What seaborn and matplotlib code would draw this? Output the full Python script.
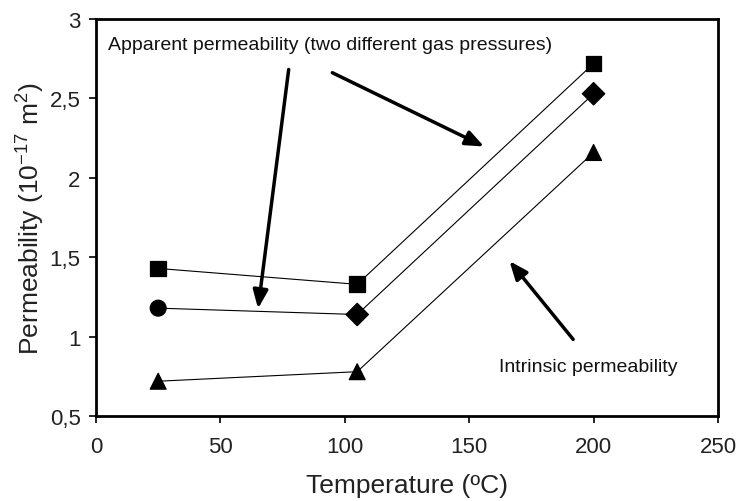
import pandas as pd
import matplotlib.pyplot as plt
import seaborn as sns

# values
temperature = [25, 105, 200]
apparent_high = [1.43, 1.33, 2.72]
apparent_low = [1.18, 1.14, 2.53]
intrinsic = [0.72, 0.78, 2.16]
shapes_high = ['s', 's', 's']
shapes_low = ['o', 'D', 'D']
shapes_intr = ['^', '^', '^']

x_ticks = [0, 50, 100, 150, 200, 250]
y_ticks = [0.5, 1, 1.5, 2, 2.5, 3]
y_tick_labels = ['0,5', '1', '1,5', '2', '2,5', '3']

rows = []
for name, vals, shapes in [('high', apparent_high, shapes_high),
                           ('low', apparent_low, shapes_low),
                           ('intrinsic', intrinsic, shapes_intr)]:
    for t, v, m in zip(temperature, vals, shapes):
        rows.append({'Temperature': t, 'Permeability': v, 'series': name, 'shape': m})
df = pd.DataFrame(rows)

sns.set_style('ticks')
plt.rcParams['font.family'] = ['Liberation Sans', 'DejaVu Sans']
plt.rcParams['mathtext.fontset'] = 'custom'
plt.rcParams['mathtext.rm'] = 'Liberation Sans'
plt.rcParams['mathtext.it'] = 'Liberation Sans'

fig = plt.figure(figsize=(7.44, 5.02), dpi=100)
ax = fig.add_axes([0.129, 0.169, 0.836, 0.791])

# thin connecting lines
sns.lineplot(data=df, x='Temperature', y='Permeability', units='series',
             estimator=None, color='black', lw=0.8, ax=ax, legend=False)
# markers, one shape per point
sns.scatterplot(data=df, x='Temperature', y='Permeability', style='shape',
                markers={'s': 's', 'o': 'o', 'D': 'D', '^': '^'},
                color='black', s=130, edgecolor='black', ax=ax, legend=False,
                zorder=3)

ax.set_xlim(0, 250)
ax.set_ylim(0.5, 3)
ax.set_xticks(x_ticks)
ax.set_yticks(y_ticks)
ax.set_yticklabels(y_tick_labels)
ax.tick_params(labelsize=16, length=5, width=1.2, color='black', labelcolor='#222222')
ax.tick_params(axis='x', pad=9)
ax.tick_params(axis='y', pad=6)
for sp in ax.spines.values():
    sp.set_visible(True)
    sp.set_linewidth(2)
    sp.set_color('black')

ax.set_xlabel('Temperature (ºC)', fontsize=19, color='#222222', labelpad=12)
ax.set_ylabel('Permeability (10$^{\\mathregular{-17}}$ m$^{2}$)', fontsize=19,
              color='#222222', labelpad=2)

ax.text(4.8, 2.84, 'Apparent permeability (two different gas pressures)',
        fontsize=14, va='center', ha='left', color='#111111')
ax.text(162, 0.81, 'Intrinsic permeability',
        fontsize=14, va='center', ha='left', color='#111111')

arrow = dict(arrowstyle='-|>,head_width=0.45,head_length=1.1', color='black', lw=2.5)
ax.annotate('', xy=(65, 1.16), xytext=(77.6, 2.70), arrowprops=arrow)
ax.annotate('', xy=(157, 2.19), xytext=(94, 2.67), arrowprops=arrow)
ax.annotate('', xy=(165.5, 1.49), xytext=(192.5, 0.97), arrowprops=arrow)

plt.savefig('out.png', dpi=100)
